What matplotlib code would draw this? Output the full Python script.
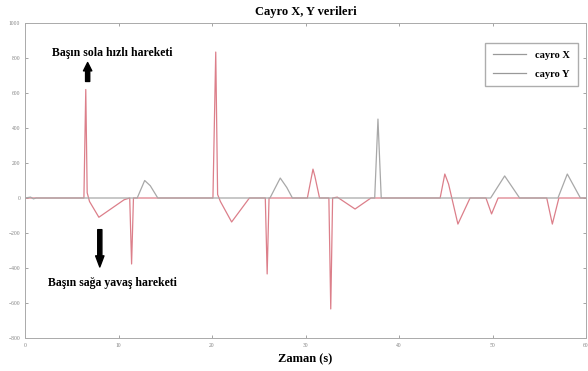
import matplotlib.pyplot as plt
import numpy as np

# gyro X (red-ish trace): (time [s], value)
x_t = [0, 6.3, 6.5, 6.65, 6.9, 7.9, 10.6, 11.2, 11.4, 11.6, 12.0, 20.1, 20.4, 20.6, 20.9,
       22.1, 24.0, 25.7, 25.9, 26.1, 30.2, 30.8, 31.0, 31.5, 32.5, 32.7, 32.9, 33.4, 35.3,
       37.0, 44.4, 44.9, 45.3, 46.3, 47.6, 49.3, 49.9, 50.6, 55.8, 56.4, 57.1, 60]
x_v = [0, 0, 620, 30, -20, -110, -10, 0, -377, 0, 0, 0, 834, 20, -20,
       -137, 0, 0, -434, 0, 0, 165, 125, 0, 0, -634, 0, 5, -63,
       0, 0, 137, 80, -149, 0, 0, -91, 0, 0, -149, 0, 0]

# gyro Y (gray trace)
y_t = [0, 0.6, 0.9, 1.2, 12.0, 12.8, 13.4, 14.2, 26.2, 27.3, 28.0, 28.6, 37.4, 37.75, 38.1,
       48.5, 49.8, 51.3, 52.9, 57.0, 58.0, 59.4, 60]
y_v = [0, 5, -5, 0, 0, 100, 70, 0, 0, 114, 60, 0, 0, 451, 0,
       0, 0, 126, 0, 0, 137, 0, 0]

plt.rcParams['font.family'] = ['Liberation Serif', 'DejaVu Serif']

fig = plt.figure(figsize=(5.88, 3.71), dpi=100)
ax = fig.add_axes([25 / 588, 1 - 338 / 371, 561 / 588, 315 / 371])

ax.plot(x_t, x_v, color='#dc7f8a', lw=0.9, label='cayro X')
ax.plot(y_t, y_v, color='#a8a8a8', lw=0.9, label='cayro Y')

ax.set_xlim(0, 60)
ax.set_ylim(-800, 1000)
ax.set_xticks(np.arange(0, 61, 10))
ax.set_yticks(np.arange(-800, 1001, 200))
ax.tick_params(direction='in', labelsize=4, colors='#808080', length=2, width=0.5,
               top=True, right=True)
for s in ax.spines.values():
    s.set_color('#aaaaaa')
    s.set_linewidth(0.7)

ax.set_title('Cayro X, Y verileri', fontsize=9, fontweight='bold', pad=6)
ax.set_xlabel('Zaman (s)', fontsize=9, fontweight='bold', labelpad=4)

leg = ax.legend(loc='upper right', prop={'weight': 'bold', 'size': 7.5},
                fancybox=False, edgecolor='#999999', handlelength=3.2,
                borderpad=0.7, labelspacing=0.9, handletextpad=0.9,
                borderaxespad=0.6, bbox_to_anchor=(0.996, 0.955))
for h in leg.get_lines():
    h.set_color('#999999')

ax.text(9.3, 830, 'Başın sola hızlı hareketi', fontsize=8.5, fontweight='bold',
        ha='center', va='center')
ax.annotate('', xy=(6.7, 790), xytext=(6.7, 650),
            arrowprops=dict(arrowstyle='simple,head_width=0.6,head_length=0.6,tail_width=0.3',
                            color='black'))
ax.text(9.3, -485, 'Başın sağa yavaş hareketi', fontsize=8.5, fontweight='bold',
        ha='center', va='center')
ax.annotate('', xy=(8.0, -410), xytext=(8.0, -165),
            arrowprops=dict(arrowstyle='simple,head_width=0.6,head_length=0.8,tail_width=0.3',
                            color='black'))

fig.savefig('out.png', dpi=100)
